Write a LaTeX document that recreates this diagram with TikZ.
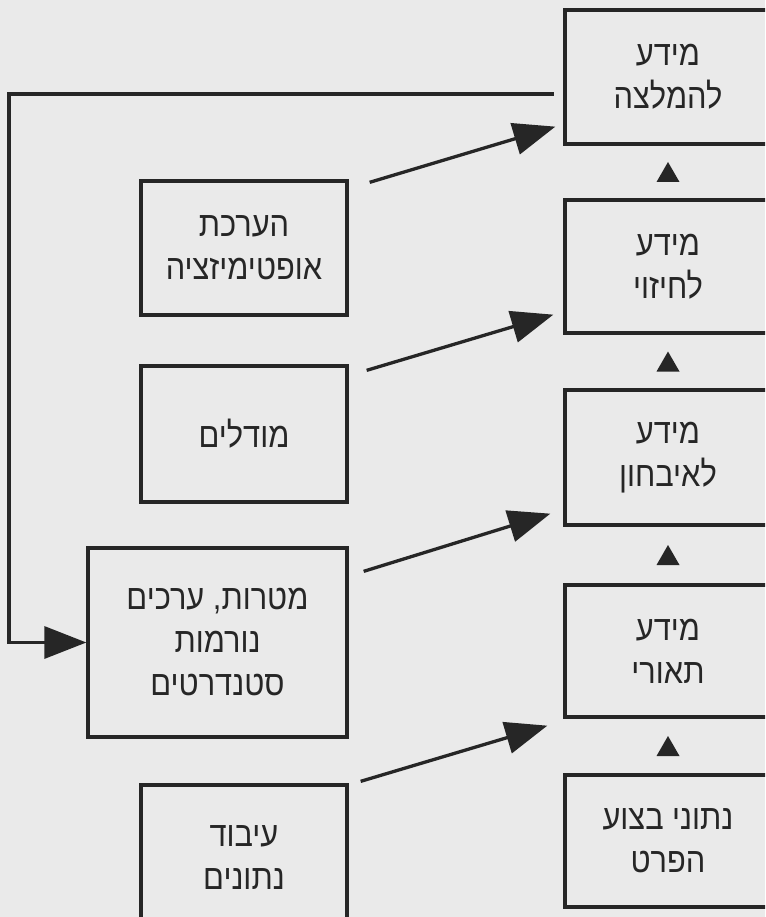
\documentclass[tikz,border=0pt]{standalone}
\usepackage{fontspec}
\usepackage{tikz}
\usetikzlibrary{arrows.meta, calc}
\newfontfamily\hebfont[Script=Hebrew, FakeStretch=0.88]{Liberation Sans}
\TeXXeTstate=1
\definecolor{scanpaper}{HTML}{EAEAEA}
\definecolor{inkgrey}{HTML}{262626}
\newcommand{\hebline}[1]{\beginR #1\endR}

\begin{document}
\begin{tikzpicture}[x=1pt, y=-1pt,
  infobox/.style={draw=inkgrey, line width=3.3pt, inner sep=0pt, minimum width=206pt,
    minimum height=134pt, align=center, text=inkgrey,
    font=\hebfont\fontsize{35}{43}\selectfont},
  flowarrow/.style={draw=inkgrey, line width=3.3pt, -{Triangle[length=42pt, width=32pt]}},
  feedback/.style={flowarrow, line cap=rect}]

  % Page background
  \useasboundingbox (0,0) rectangle (765,917);
  \clip (0,0) rectangle (765,917);
  \fill[scanpaper] (0,0) rectangle (765,917);

  % Information levels (right column)
  \node[infobox] (rec)  at (668,77)    {\hebline{מידע}\\\hebline{להמלצה}};
  \node[infobox, minimum height=133pt] (pred) at (668,266.5) {\hebline{מידע}\\\hebline{לחיזוי}};
  \node[infobox, minimum height=135pt] (diag) at (668,457.5) {\hebline{מידע}\\\hebline{לאיבחון}};
  \node[infobox, minimum height=132pt] (desc) at (668,651)   {\hebline{מידע}\\\hebline{תאורי}};
  \node[infobox, minimum height=132pt] (perf) at (668,841)   {\hebline{נתוני בצוע}\\\hebline{הפרט}};

  % Processes (left column)
  \node[infobox] (opt)    at (244,248) {\hebline{הערכת}\\\hebline{אופטימיזציה}};
  \node[infobox, minimum height=136pt] (models) at (244,434) {\hebline{מודלים}};
  \node[infobox, minimum width=259pt, minimum height=189pt] (goals) at (217.5,642.5)
    {\hebline{מטרות, ערכים}\\\hebline{נורמות}\\\hebline{סטנדרטים}};
  \node[infobox, minimum height=145pt] (proc) at (244,857.5) {\hebline{עיבוד}\\\hebline{נתונים}};

  % Small up triangles between the levels
  \foreach \lo/\hi in {pred/rec, diag/pred, desc/diag, perf/desc} {
    \fill[inkgrey] ($(\lo.north)!0.5!(\hi.south)$) +(0,-10) -- +(11.5,10) -- +(-11.5,10) -- cycle;
  }

  % Process feeds level
  \foreach \src/\dst/\sx/\sy/\dx/\dy in {opt/rec/21/3/-8/-19, models/pred/18/6/-10/-20,
      goals/diag/15/25/-13/-13, proc/desc/12/-2/-16/7} {
    \draw[flowarrow] ([shift={(\sx,\sy)}]\src.north east) -- ([shift={(\dx,\dy)}]\dst.south west);
  }

  % Feedback from recommendation back to goals
  \coordinate (fbtop) at ([shift={(-11,17)}]rec.west);
  \coordinate (fbleft) at (9,0);
  \draw[feedback] (fbtop) -- (fbtop -| fbleft) -- (fbleft |- goals.west) -- (goals.west);
\end{tikzpicture}
\end{document}
